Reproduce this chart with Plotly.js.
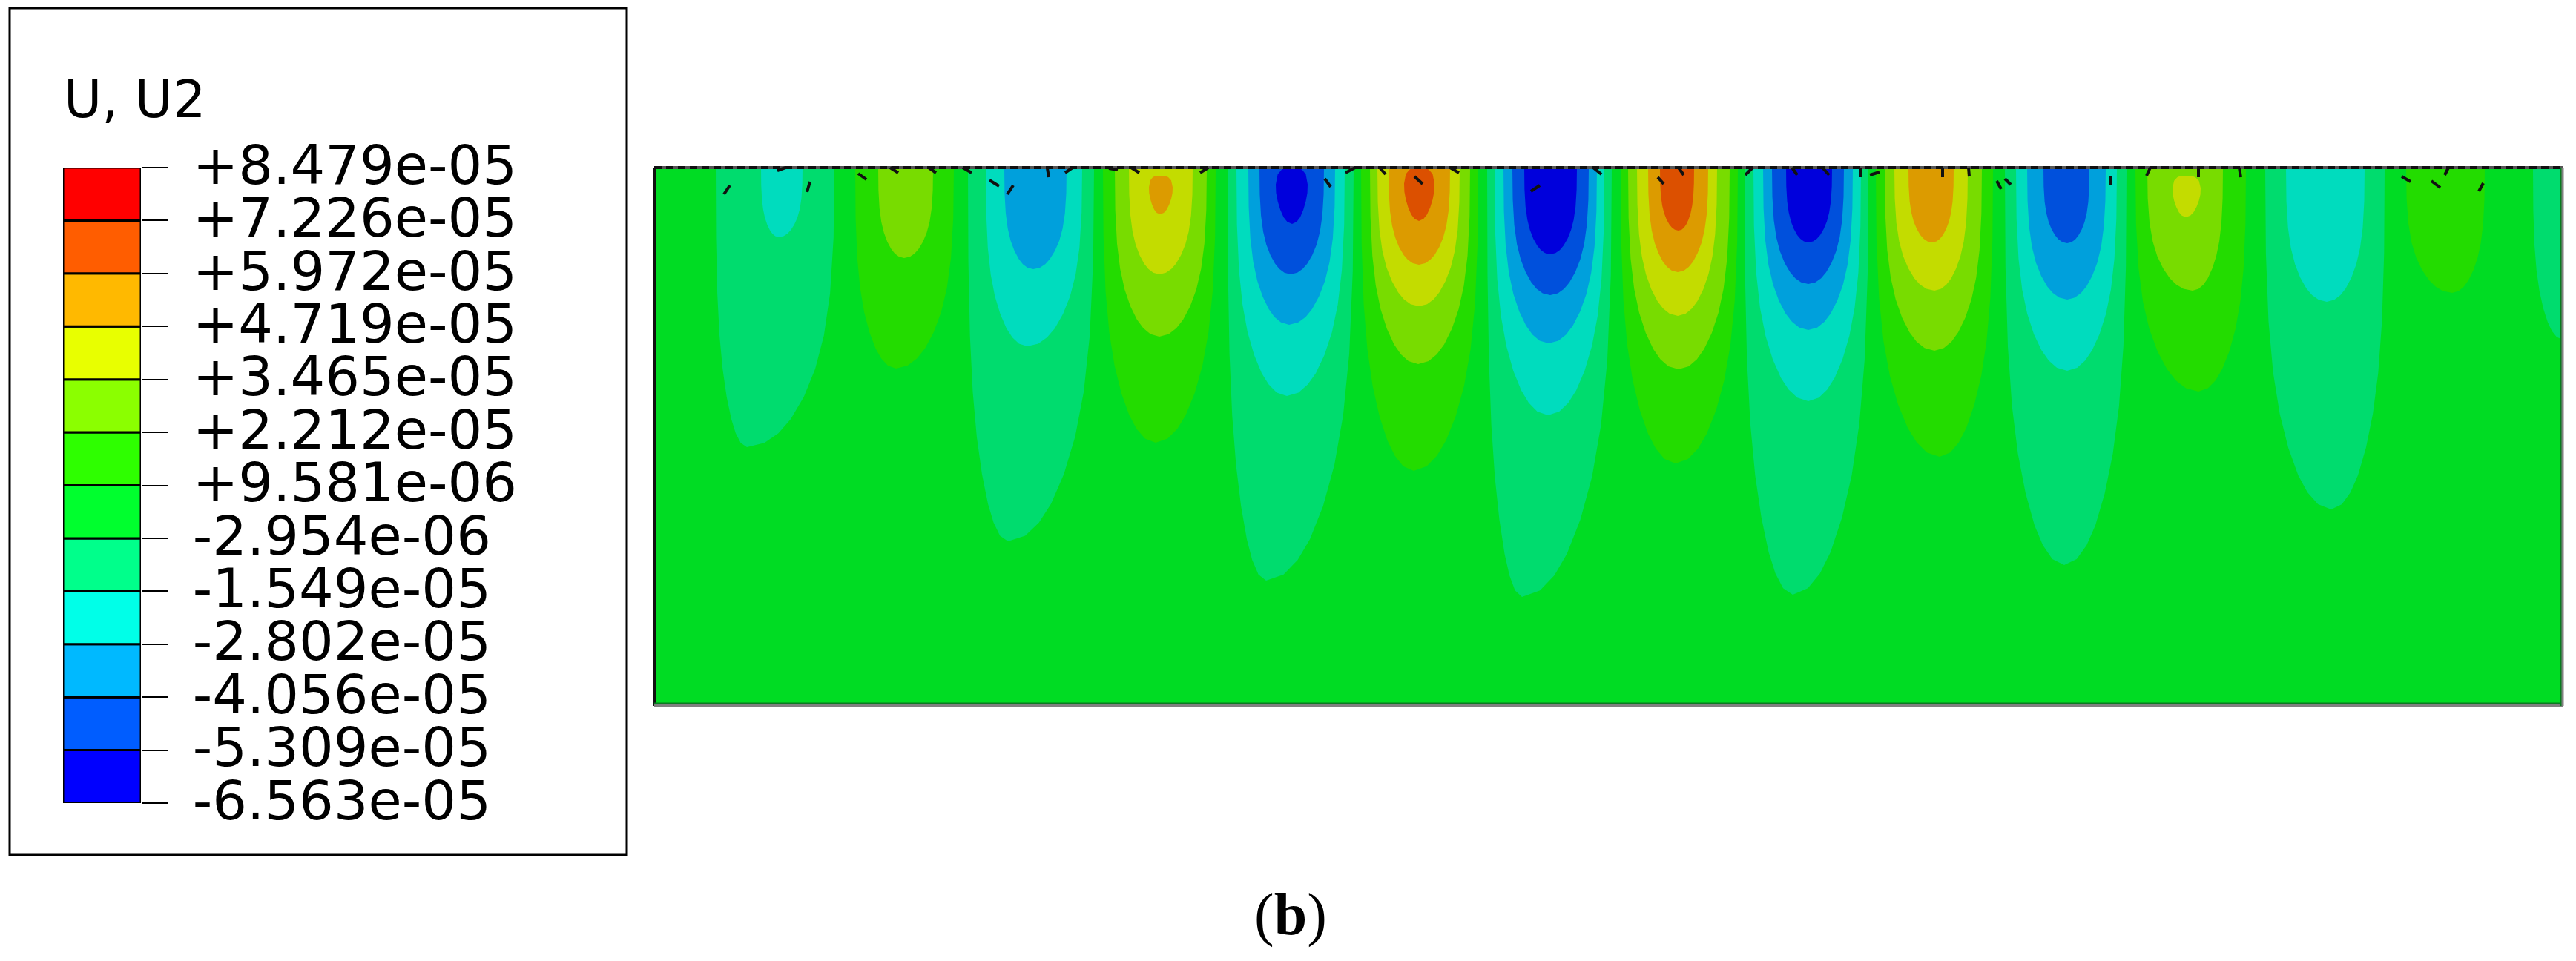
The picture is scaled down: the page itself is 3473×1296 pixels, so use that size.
<!DOCTYPE html>
<html>
<head>
<meta charset="utf-8">
<script src="https://cdn.plot.ly/plotly-3.0.1.min.js"></script>
<style>
body { margin: 0; background: #fff; }
#plot { width: 3473px; height: 1296px; }
</style>
</head>
<body>
<div id="plot"></div>
<script>
//Legend values, top to bottom
var legendTitle = "U, U2";
var levelLabels = ["+8.479e-05", "+7.226e-05", "+5.972e-05", "+4.719e-05", "+3.465e-05", "+2.212e-05", "+9.581e-06",
    "-2.954e-06", "-1.549e-05", "-2.802e-05", "-4.056e-05", "-5.309e-05", "-6.563e-05"];
var legendColors = ["#ff0000", "#ff5d00", "#ffb900", "#e8ff00", "#8bff00", "#2eff00", "#00ff2e",
    "#00ff8b", "#00ffe8", "#00b9ff", "#005dff", "#0000ff"];
var caption = "(<b>b</b>)";

//Plate outline, read in picture units
var plateX = [882, 3455];
var plateY = [226, 952];
var plateColor = "#00dc23";

//Contour lobes per level: [left x, right x, tip x, tip y, top y of a closed oval]
var negLevel1 = [[965, 1125, 1007, 603], [1305, 1475, 1359, 730], [1655, 1825, 1707, 783], [2005, 2173, 2052, 805],
    [2352, 2519, 2417, 802], [2703, 2867, 2783, 762], [3054, 3215, 3143, 687], [3415, 3455, 3455, 458]];
var negLevel2 = [[1026, 1082, 1050, 320], [1329, 1459, 1385, 467], [1667, 1813, 1735, 534], [2015, 2163, 2087, 560],
    [2364, 2509, 2438, 541], [2718, 2854, 2787, 500], [3082, 3188, 3137, 407]];
var negLevel3 = [[1354, 1438, 1393, 363], [1683, 1800, 1738, 438], [2027, 2153, 2088, 463], [2377, 2498, 2438, 445],
    [2733, 2839, 2787, 404]];
var negLevel4 = [[1698, 1785, 1740, 370], [2039, 2142, 2090, 398], [2389, 2486, 2438, 383], [2755, 2817, 2787, 328]];
var negLevel5 = [[1720, 1763, 1742, 302, 226], [2055, 2126, 2090, 343], [2408, 2470, 2438, 327]];
var posLevel1 = [[1153, 1286, 1208, 497], [1487, 1639, 1558, 597], [1835, 1993, 1906, 635], [2185, 2343, 2259, 625],
    [2529, 2687, 2615, 616], [2879, 3028, 2964, 528], [3244, 3350, 3306, 395]];
var posLevel2 = [[1184, 1258, 1219, 348], [1503, 1627, 1563, 454], [1847, 1982, 1912, 491], [2195, 2332, 2263, 498],
    [2541, 2672, 2608, 473], [2895, 2997, 2956, 392]];
var posLevel3 = [[1522, 1608, 1563, 370], [1857, 1968, 1913, 413], [2207, 2315, 2262, 426], [2554, 2653, 2608, 392],
    [2929, 2967, 2947, 293, 237]];
var posLevel4 = [[1549, 1581, 1564, 289, 237], [1872, 1955, 1913, 357], [2222, 2303, 2262, 367], [2573, 2634, 2605, 327]];
var posLevel5 = [[1893, 1934, 1913, 298, 226], [2238, 2284, 2263, 311]];

//Rounded outline of a lobe: depth fraction and width fraction
var sideDepth = [0, 0.25, 0.45, 0.6, 0.72, 0.82, 0.9, 0.95, 0.985, 1];
var sideWidth = [1, 0.99, 0.95, 0.88, 0.78, 0.65, 0.5, 0.36, 0.2, 0];
var ovalDepth = [0, 0.04, 0.12, 0.3, 0.45, 0.6, 0.75, 0.88, 0.96, 1];
var ovalWidth = [0.4, 0.65, 0.88, 1, 0.98, 0.88, 0.72, 0.52, 0.3, 0];

//Short black load marks on the top edge: x1, y1, x2, y2
var loadMarks = [[984, 250, 976, 262], [1092, 245, 1088, 259], [1048, 230, 1059, 226], [1157, 234, 1168, 242],
    [1200, 226, 1211, 233], [1252, 226, 1262, 233], [1298, 226, 1310, 233], [1334, 243, 1347, 251],
    [1366, 250, 1358, 262], [1412, 227, 1414, 239], [1446, 226, 1436, 233], [1495, 227, 1507, 229],
    [1525, 226, 1536, 233], [1629, 226, 1618, 233], [1786, 241, 1794, 252], [1827, 226, 1814, 233],
    [1860, 226, 1868, 235], [1907, 238, 1918, 248], [1955, 226, 1967, 233], [2076, 250, 2064, 258],
    [2148, 226, 2159, 235], [2235, 239, 2243, 248], [2263, 226, 2270, 236], [2363, 226, 2353, 236],
    [2416, 226, 2423, 236], [2457, 226, 2466, 236], [2509, 226, 2509, 239], [2534, 232, 2521, 236],
    [2619, 226, 2619, 239], [2654, 226, 2655, 238], [2692, 244, 2698, 255], [2703, 241, 2711, 249],
    [2845, 237, 2845, 249], [2899, 226, 2894, 237], [2964, 226, 2964, 239], [3019, 226, 3021, 239],
    [3238, 238, 3250, 245], [3278, 244, 3290, 253], [3301, 226, 3296, 236], [3348, 247, 3342, 258]];

//Build one filled trace out of all lobes of a level
function levelTrace(shells, color) {
    var xs = [], ys = [];
    shells.forEach(function (s) {
        var top = s[4] ? s[4] : plateY[0];
        var depth = s[4] ? ovalDepth : sideDepth;
        var width = s[4] ? ovalWidth : sideWidth;
        var i;
        for (i = 0; i < depth.length; i++) {
            xs.push(s[2] - (s[2] - s[0]) * width[i]);
            ys.push(top + depth[i] * (s[3] - top));
        }
        for (i = depth.length - 2; i >= 0; i--) {
            xs.push(s[2] + (s[1] - s[2]) * width[i]);
            ys.push(top + depth[i] * (s[3] - top));
        }
        xs.push(null);
        ys.push(null);
    });
    return {x: xs, y: ys, type: "scatter", mode: "lines", fill: "toself", fillcolor: color,
        line: {width: 0, color: color}, hoverinfo: "skip", showlegend: false};
}

function edgeTrace(xs, ys, color, w, dash) {
    return {x: xs, y: ys, type: "scatter", mode: "lines", hoverinfo: "skip", showlegend: false,
        line: {color: color, width: w, dash: dash || "solid"}};
}

var traces = [];
traces.push({x: [plateX[0], plateX[1], plateX[1], plateX[0], plateX[0]],
    y: [plateY[0], plateY[0], plateY[1], plateY[1], plateY[0]],
    type: "scatter", mode: "lines", fill: "toself", fillcolor: plateColor,
    line: {width: 0, color: plateColor}, hoverinfo: "skip", showlegend: false});
traces.push(levelTrace(negLevel1, "#00dc6e"));
traces.push(levelTrace(negLevel2, "#00dcbe"));
traces.push(levelTrace(negLevel3, "#00a0dc"));
traces.push(levelTrace(negLevel4, "#0050dc"));
traces.push(levelTrace(negLevel5, "#0000dc"));
traces.push(levelTrace(posLevel1, "#23dc00"));
traces.push(levelTrace(posLevel2, "#78dc00"));
traces.push(levelTrace(posLevel3, "#c3dc00"));
traces.push(levelTrace(posLevel4, "#dc9b00"));
traces.push(levelTrace(posLevel5, "#dc5000"));

//Plate edges
traces.push(edgeTrace([plateX[0], plateX[1]], [plateY[0], plateY[0]], "#555555", 4));
traces.push(edgeTrace([plateX[0], plateX[1]], [plateY[0], plateY[0]], "#111111", 4, "10px,6px"));
traces.push(edgeTrace([plateX[0], plateX[0]], [plateY[0], plateY[1]], "#111111", 4));
traces.push(edgeTrace([plateX[0], plateX[1]], [plateY[1] - 3, plateY[1] - 3], "#0a7a20", 3));
traces.push(edgeTrace([plateX[0], plateX[1]], [plateY[1], plateY[1]], "#808080", 4));
traces.push(edgeTrace([plateX[1] - 2, plateX[1] - 2], [plateY[0], plateY[1]], "#0a7a20", 2));
traces.push(edgeTrace([plateX[1], plateX[1]], [plateY[0], plateY[1]], "#808080", 3));

var markX = [], markY = [];
loadMarks.forEach(function (m) {
    markX.push(m[0], m[2], null);
    markY.push(m[1], m[3], null);
});
traces.push(edgeTrace(markX, markY, "#111111", 4));

//Legend colour bar, one block per band, bottom band first
var bandCount = legendColors.length;
var bandBase = [], bandSize = [], bandX = [], bandColor = [], tickVals = [], tickText = [];
for (var i = 0; i < bandCount; i++) {
    bandBase.push(i);
    bandSize.push(1);
    bandX.push(0);
    bandColor.push(legendColors[bandCount - 1 - i]);
}
for (var j = 0; j < levelLabels.length; j++) {
    tickVals.push(j);
    tickText.push(levelLabels[levelLabels.length - 1 - j]);
}
traces.push({x: bandX, y: bandSize, base: bandBase, type: "bar", width: 1, xaxis: "x2", yaxis: "y2",
    marker: {color: bandColor, line: {color: "#000000", width: 3}}, hoverinfo: "skip", showlegend: false});

var W = 3473, H = 1296;
var hiddenAxis = {showgrid: false, zeroline: false, showticklabels: false, ticks: "", showline: false};

var layout = {
    width: W, height: H,
    margin: {l: 0, r: 0, t: 0, b: 0},
    paper_bgcolor: "#ffffff",
    plot_bgcolor: "rgba(0,0,0,0)",
    font: {family: "DejaVu Sans", color: "#000000"},
    barmode: "overlay",
    xaxis: Object.assign({range: [0, W], domain: [0, 1]}, hiddenAxis),
    yaxis: Object.assign({range: [H, 0], domain: [0, 1]}, hiddenAxis),
    xaxis2: Object.assign({range: [-0.5, 0.5], domain: [85 / W, 190 / W], anchor: "y2"}, hiddenAxis),
    yaxis2: {range: [0, 12], domain: [1 - 1083 / H, 1 - 226 / H], anchor: "x2", side: "right",
        showgrid: false, zeroline: false, showline: false,
        tickmode: "array", tickvals: tickVals, ticktext: tickText,
        ticks: "outside", ticklen: 36, tickwidth: 2, tickcolor: "#000000",
        ticklabelstandoff: 18, ticklabelshift: -4,
        tickfont: {family: "DejaVu Sans", size: 73.5, color: "#000000"}},
    shapes: [{type: "rect", xref: "x", yref: "y", x0: 13, x1: 845, y0: 11, y1: 1153,
        line: {color: "#000000", width: 3}, fillcolor: "#ffffff", layer: "below"}],
    annotations: [
        {xref: "x", yref: "y", x: 84, y: 134, xanchor: "left", yanchor: "middle", showarrow: false,
            text: legendTitle, font: {family: "DejaVu Sans", size: 70, color: "#000000"}},
        {xref: "x", yref: "y", x: 1740, y: 1233, xanchor: "center", yanchor: "middle", showarrow: false,
            text: caption, font: {family: "Liberation Serif", size: 80, color: "#000000"}}
    ]
};

Plotly.newPlot("plot", traces, layout, {staticPlot: true, displayModeBar: false});
</script>
</body>
</html>
